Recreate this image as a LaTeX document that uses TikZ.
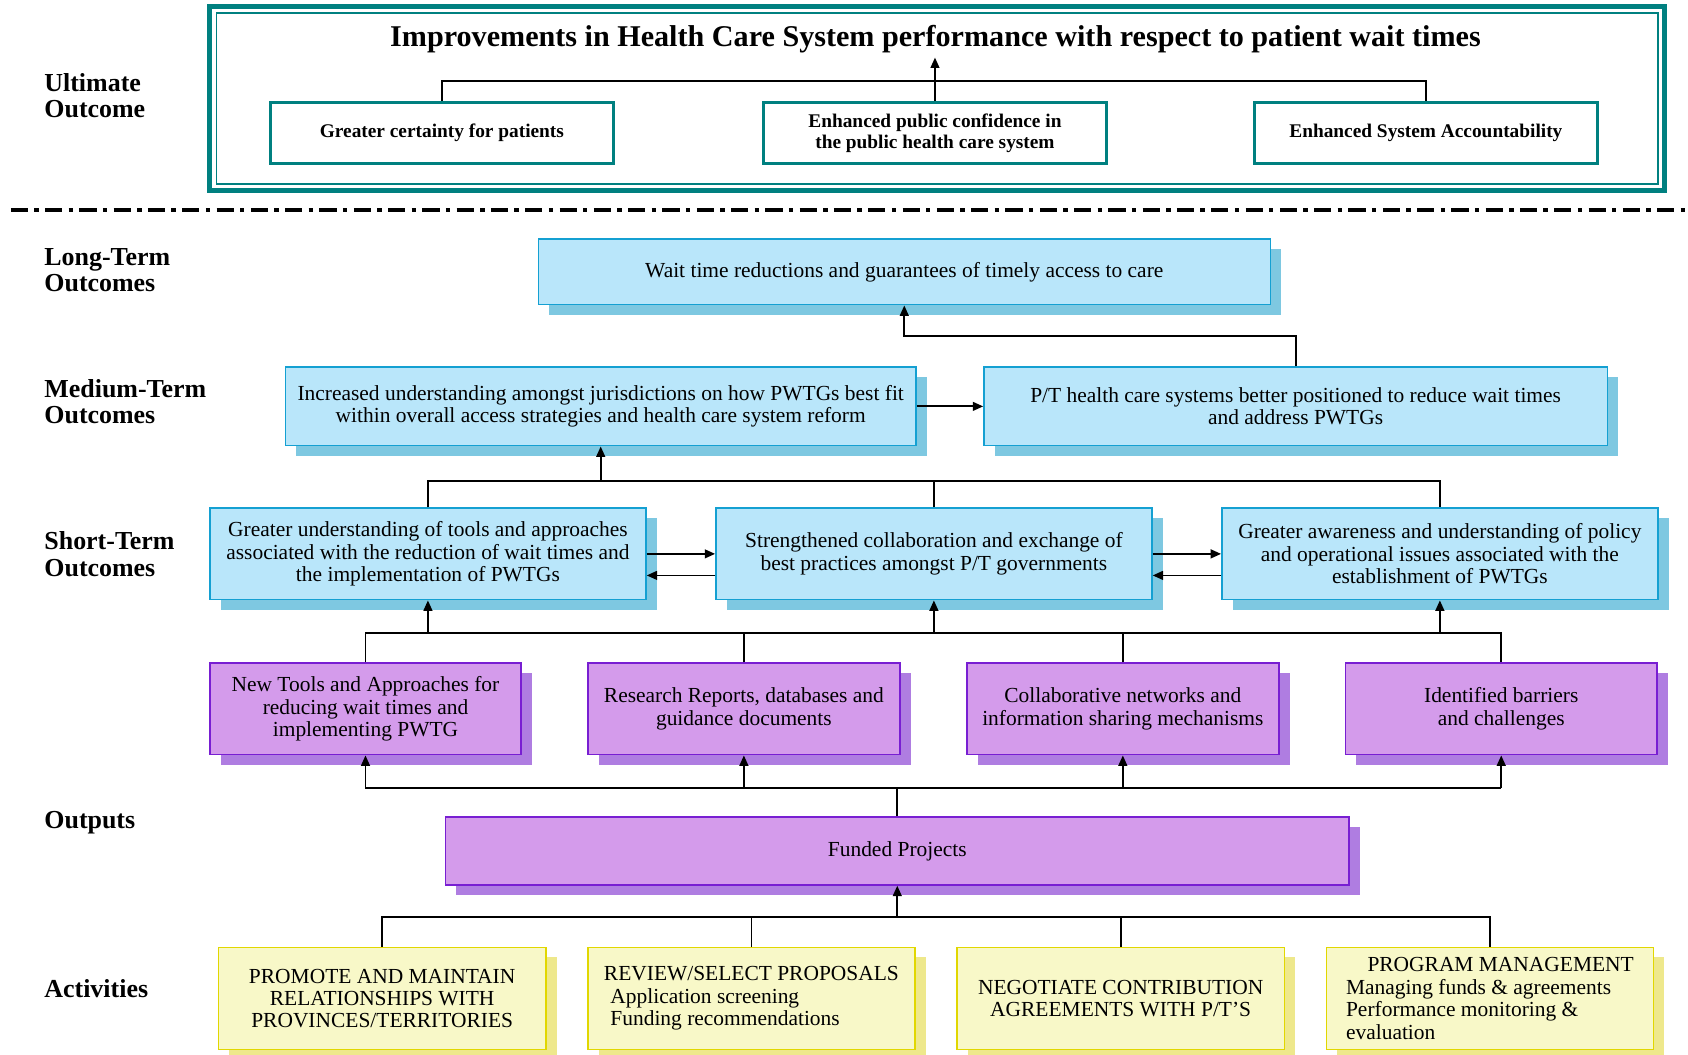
\documentclass[tikz,border=0pt]{standalone}
\usepackage{fontspec}
\setmainfont{Liberation Serif}
\usetikzlibrary{arrows.meta,shadows}
\definecolor{frameteal}{RGB}{0,128,128}
\definecolor{ltfill}{RGB}{185,230,250}
\definecolor{ltline}{RGB}{20,160,210}
\definecolor{ltshade}{RGB}{126,200,225}
\definecolor{opfill}{RGB}{212,155,235}
\definecolor{opline}{RGB}{120,30,210}
\definecolor{opshade}{RGB}{175,125,225}
\definecolor{acfill}{RGB}{248,248,200}
\definecolor{acline}{RGB}{225,215,0}
\definecolor{acshade}{RGB}{238,232,140}
\def\px{0.027cm}
\newcommand{\bodysize}{\fontsize{15.3}{16}\selectfont}
\tikzset{
  outbox/.style={draw=frameteal, line width=2pt, fill=white, inner sep=0pt, align=center,
    font={\bfseries\fontsize{13.8}{15}\selectfont}},
  ltbox/.style={draw=ltline, fill=ltfill, line width=1.1pt, inner sep=0pt, align=center, font=\bodysize,
    drop shadow={shadow xshift=0.27cm, shadow yshift=-0.25cm, fill=ltshade, opacity=1}},
  opbox/.style={ltbox, draw=opline, fill=opfill,
    drop shadow={shadow xshift=0.27cm, shadow yshift=-0.25cm, fill=opshade, opacity=1}},
  acbox/.style={ltbox, draw=acline, fill=acfill,
    drop shadow={shadow xshift=0.27cm, shadow yshift=-0.25cm, fill=acshade, opacity=1}},
  tier/.style={anchor=west, align=left, inner sep=0pt, font={\bfseries\fontsize{18.5}{19}\selectfont}},
  link/.style={line width=1.3pt},
  arr/.style={link, -{Triangle[length=2.6mm,width=2.2mm]}}
}
\begin{document}
\begin{tikzpicture}[x=\px, y=-\px]
\useasboundingbox (0,0) rectangle (1568,980);

\draw[frameteal, line width=3.6pt] (195,6) rectangle (1546,177);
\draw[frameteal, line width=1pt] (201,12) rectangle (1540,171);
\node[font={\bfseries\fontsize{21.5}{23}\selectfont}] (ult) at (869,36) {Improvements in Health Care System performance with respect to patient wait times};
\node[outbox, minimum width=319*\px, minimum height=57*\px] (uo1) at (410.5,123.5) {Greater certainty for patients};
\node[outbox, minimum width=319*\px, minimum height=57*\px] (uo2) at (868.5,123.5) {Enhanced public confidence in\\the public health care system};
\node[outbox, minimum width=319*\px, minimum height=57*\px] (uo3) at (1324.5,123.5) {Enhanced System Accountability};

\draw[line width=2.8pt, dash pattern=on 0.43cm off 0.16cm on 0.11cm off 0.16cm] (10,195) -- (1568,195);

\node[tier] (tu) at (41,89) {Ultimate\\Outcome};
\node[tier] (tl) at (41,251) {Long-Term\\Outcomes};
\node[tier] (tm) at (41,373) {Medium-Term\\Outcomes};
\node[tier] (ts) at (41,515) {Short-Term\\Outcomes};
\node[tier] (to) at (41,764) {Outputs};
\node[tier] (ta) at (41,918) {Activities};

\node[ltbox, minimum width=680*\px, minimum height=61*\px] (lt) at (840,252.5) {Wait time reductions and guarantees of timely access to care};
\node[ltbox, minimum width=586*\px, minimum height=73*\px] (mt1) at (558,377.5) {Increased understanding amongst jurisdictions on how PWTGs best fit\\within overall access strategies and health care system reform};
\node[ltbox, minimum width=579*\px, minimum height=73*\px] (mt2) at (1203.5,377.5) {P/T health care systems better positioned to reduce wait times\\and address PWTGs};
\node[ltbox, minimum width=405*\px, minimum height=85*\px] (st1) at (397.5,514.5) {Greater understanding of tools and approaches\\associated with the reduction of wait times and\\the implementation of PWTGs};
\node[ltbox, minimum width=405*\px, minimum height=85*\px] (st2) at (867.5,514.5) {Strengthened collaboration and exchange of\\best practices amongst P/T governments};
\node[ltbox, minimum width=405*\px, minimum height=85*\px] (st3) at (1337.5,514.5) {Greater awareness and understanding of policy\\and operational issues associated with the\\establishment of PWTGs};

\node[opbox, minimum width=289*\px, minimum height=85*\px] (op1) at (339.5,658.5) {New Tools and Approaches for\\reducing wait times and\\implementing PWTG};
\node[opbox, minimum width=290*\px, minimum height=85*\px] (op2) at (691,658.5) {Research Reports, databases and\\guidance documents};
\node[opbox, minimum width=290*\px, minimum height=85*\px] (op3) at (1043,658.5) {Collaborative networks and\\information sharing mechanisms};
\node[opbox, minimum width=289*\px, minimum height=85*\px] (op4) at (1394.5,658.5) {Identified barriers\\and challenges};
\node[opbox, minimum width=839*\px, minimum height=63*\px] (fp) at (833.5,790.5) {Funded Projects};

\node[acbox, minimum width=304*\px, minimum height=95*\px] (ac1) at (355,927.5) {PROMOTE AND MAINTAIN\\RELATIONSHIPS WITH\\PROVINCES/TERRITORIES};
\node[acbox, minimum width=304*\px, minimum height=95*\px, align=left] (ac2) at (698,927.5) {REVIEW/SELECT PROPOSALS\\\hspace*{0.3em}Application screening\\\hspace*{0.3em}Funding recommendations};
\node[acbox, minimum width=304*\px, minimum height=95*\px] (ac3) at (1041,927.5) {NEGOTIATE CONTRIBUTION\\AGREEMENTS WITH P/T’S};
\node[acbox, minimum width=304*\px, minimum height=95*\px, align=left] (ac4) at (1384,927.5) {\hspace*{1em}PROGRAM MANAGEMENT\\Managing funds \& agreements\\Performance monitoring \&\\evaluation};

\coordinate (ubus) at (0,75);
\coordinate (mbus) at (0,312);
\coordinate (sbus) at (0,447);
\coordinate (obus) at (0,588);
\coordinate (fbus) at (0,732);
\coordinate (abus) at (0,852);

\draw[link] (uo1.north) |- (uo3.north |- ubus) -- (uo3.north);
\draw[arr] (uo2.north) -- (uo2.north |- ult.south);

\draw[arr] (mt2.north) |- (lt.south |- mbus) -- (lt.south);
\draw[arr] (mt1.east) -- (mt2.west);

\draw[link] (st1.north) |- (st3.north |- sbus) -- (st3.north);
\draw[link] (st2.north) -- (st2.north |- sbus);
\draw[arr] (mt1.south |- sbus) -- (mt1.south);
\draw[arr] (st1.east) -- (st2.west);
\draw[arr] ([yshift=-0.54cm]st2.west) -- ([yshift=-0.54cm]st1.east);
\draw[arr] (st2.east) -- (st3.west);
\draw[arr] ([yshift=-0.54cm]st3.west) -- ([yshift=-0.54cm]st2.east);

\draw[link] (op1.north) |- (op4.north |- obus) -- (op4.north);
\foreach \o in {op2,op3}
  \draw[link] (\o.north) -- (\o.north |- obus);
\foreach \s in {st1,st2,st3}
  \draw[arr] (\s.south |- obus) -- (\s.south);

\draw[link] (fp.north) -- (fp.north |- fbus);
\draw[link] (op1.south |- fbus) -- (op4.south |- fbus);
\foreach \o in {op1,op2,op3,op4}
  \draw[arr] (\o.south |- fbus) -- (\o.south);

\draw[link] (ac1.north) |- (ac4.north |- abus) -- (ac4.north);
\foreach \a in {ac2,ac3}
  \draw[link] (\a.north) -- (\a.north |- abus);
\draw[arr] (fp.south |- abus) -- (fp.south);
\end{tikzpicture}
\end{document}
